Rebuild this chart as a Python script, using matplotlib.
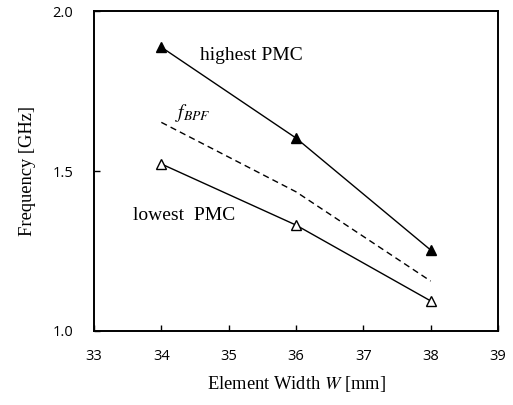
import matplotlib
matplotlib.use("Agg")
import matplotlib.pyplot as plt

width = [34, 36, 38]
highest_pmc = [1.887, 1.603, 1.253]
lowest_pmc = [1.522, 1.331, 1.094]
f_bpf = [1.652, 1.435, 1.156]

xticks = [33, 34, 35, 36, 37, 38, 39]
yticks = [1.0, 1.5, 2.0]

plt.rcParams['mathtext.fontset'] = 'stix'

fig = plt.figure(figsize=(5.13, 4.05), dpi=100)
ax = fig.add_axes([94/513, 1-331/405, (498-94)/513, (331-11)/405])

ax.plot(width, highest_pmc, color='black', lw=1.0, marker='^', ms=7.5,
        mfc='black', mec='black')
ax.plot(width, lowest_pmc, color='black', lw=1.0, marker='^', ms=7.5,
        mfc='white', mec='black', mew=1.0)
ax.plot(width, f_bpf, color='black', lw=1.0, dashes=(4.5, 3))

ax.set_xlim(33, 39)
ax.set_ylim(1.0, 2.0)
ax.set_xticks(xticks)
ax.set_yticks(yticks)
ax.set_yticklabels([f"{v:.1f}" for v in yticks])

for s in ax.spines.values():
    s.set_linewidth(1.4)
ax.tick_params(direction='in', length=4, width=1.0, labelsize=10.5, pad=13)
ax.tick_params(axis='y', pad=15)
for lab in ax.get_xticklabels() + ax.get_yticklabels():
    lab.set_family('Open Sans')

serif = 'Liberation Serif'
ax.set_xlabel('Element Width $\\mathit{W}$ [mm]', family=serif, fontsize=13.3, labelpad=7)
ax.set_ylabel('Frequency [GHz]', family=serif, fontsize=13.3, labelpad=12)

ax.text(34.57, 1.86, 'highest PMC', family=serif, fontsize=14, va='center', ha='left')
ax.text(33.58, 1.36, 'lowest  PMC', family=serif, fontsize=14, va='center', ha='left')
ax.text(34.2, 1.68, '$f_{BPF}$', fontsize=14, va='center', ha='left')

fig.savefig('out.png', dpi=100)
